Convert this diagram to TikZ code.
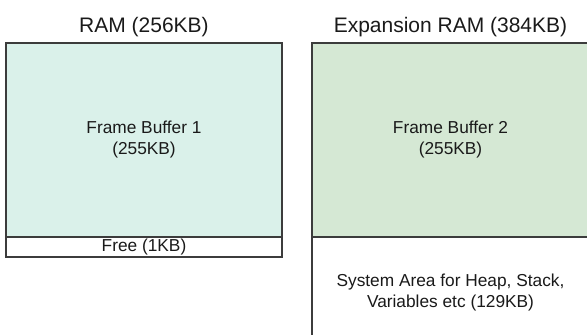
\documentclass[tikz,border=0pt]{standalone}
\usepackage{fontspec}
\setmainfont{Liberation Sans}
\definecolor{fbone}{HTML}{DAF1EA}
\definecolor{fbtwo}{HTML}{D5E8D4}
\definecolor{edge}{HTML}{3C3C3C}
\definecolor{txt}{HTML}{1A1A1A}
\begin{document}
\begin{tikzpicture}[x=1pt,y=-1pt,
  blk/.style={draw=edge,line width=1.3pt},
  title/.style={font=\fontsize{21}{25}\selectfont,text=txt,anchor=base},
  inner/.style={font=\fontsize{17.3}{21}\selectfont,text=txt,align=center}]
\useasboundingbox (0,0) rectangle (587,335);
\begin{scope}
\clip (0,0) rectangle (587,335);
% left RAM
\draw[blk,fill=fbone] (6,43) rectangle (282,237);
\draw[blk,fill=white] (6,237) rectangle (282,257);
% right expansion RAM
\draw[blk,fill=fbtwo] (312,43) rectangle (590,237);
\draw[blk,fill=white] (312,237) rectangle (590,350);
\end{scope}
\node[title] (t1) at (144,32) {RAM (256KB)};
\node[title] (t2) at (450.5,32) {Expansion RAM (384KB)};
\node[inner] (fb1) at (144,140) {Frame Buffer 1\\(255KB)};
\node[inner] (free) at (144,247) {Free (1KB)};
\node[inner] (fb2) at (450.5,140) {Frame Buffer 2\\(255KB)};
\node[inner] (sys) at (450.5,293) {System Area for Heap, Stack,\\Variables etc (129KB)};
\end{tikzpicture}
\end{document}
